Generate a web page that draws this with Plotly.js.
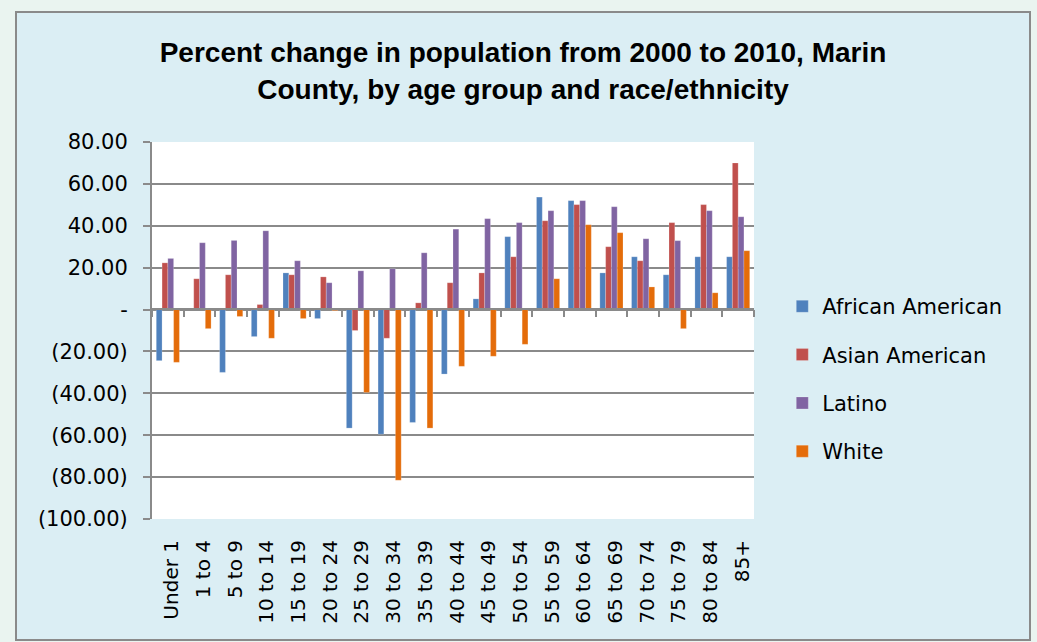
<!DOCTYPE html>
<html>
<head>
<meta charset="utf-8">
<script src="https://cdn.plot.ly/plotly-3.0.1.min.js"></script>
<style>
    body { margin: 0; background: #eaf4f0; }
    #plot {
        position: absolute;
        left: 15px;
        top: 11px;
        width: 1012px;
        height: 626px;
        border: 2px solid #8a8a8a;
    }
</style>
</head>
<body>
<div id="plot"></div>
<script>
const ageGroups = ['Under 1', '1 to 4', '5 to 9', '10 to 14', '15 to 19', '20 to 24', '25 to 29',
    '30 to 34', '35 to 39', '40 to 44', '45 to 49', '50 to 54', '55 to 59', '60 to 64',
    '65 to 69', '70 to 74', '75 to 79', '80 to 84', '85+'];

const africanAmerican = [-24.4, 0.5, -30.0, -12.9, 17.5, -4.3, -56.6, -59.5, -53.9, -30.8,
    5.1, 34.8, 53.7, 52.0, 17.5, 25.2, 16.6, 25.2, 25.2];
const asianAmerican = [22.3, 14.7, 16.6, 2.4, 16.6, 15.6, -10.0, -13.7, 3.2, 12.8,
    17.5, 25.2, 42.4, 50.1, 30.0, 23.3, 41.5, 50.1, 70.0];
const latino = [24.4, 31.9, 33.0, 37.6, 23.3, 12.8, 18.5, 19.5, 27.1, 38.4,
    43.4, 41.5, 47.2, 52.0, 49.1, 33.8, 32.9, 47.2, 44.3];
const white = [-25.2, -9.1, -3.3, -13.7, -4.3, -0.5, -39.6, -81.5, -56.6, -27.1,
    -22.3, -16.6, 14.7, 40.5, 36.7, 10.8, -9.1, 8.0, 28.1];

const yTickVals = [80, 60, 40, 20, 0, -20, -40, -60, -80, -100];
const yTickText = ['80.00', '60.00', '40.00', '20.00', '-', '(20.00)', '(40.00)', '(60.00)', '(80.00)', '(100.00)'];

function barTrace(name, values, color) {
    return {
        type: 'bar',
        x: ageGroups,
        y: values,
        name: name,
        legendgroup: name,
        marker: {color: color, line: {color: 'rgba(255,255,255,0.35)', width: 0.6}}
    };
}

const traces = [
    barTrace('African American', africanAmerican, '#4f81bd'),
    barTrace('Asian American', asianAmerican, '#c0504d'),
    barTrace('Latino', latino, '#8064a2'),
    barTrace('White', white, '#e46c0a'),
    // invisible points so the category axis through zero gets its ticks
    {
        type: 'scatter', mode: 'markers', x: ageGroups, y: ageGroups.map(() => 0),
        xaxis: 'x2', marker: {opacity: 0}, showlegend: false, hoverinfo: 'skip'
    }
];

const layout = {
    width: 1012,
    height: 626,
    margin: {l: 135, r: 275, t: 129, b: 120},
    paper_bgcolor: '#dbeef4',
    plot_bgcolor: '#ffffff',
    font: {family: 'DejaVu Sans', size: 21, color: '#000000'},
    title: {
        text: 'Percent change in population from 2000 to 2010, Marin<br>County, by age group and race/ethnicity',
        font: {family: 'Liberation Sans', size: 28, weight: 'bold', color: '#000000'},
        xref: 'container', x: 0.5,
        yref: 'container', y: 0.921, yanchor: 'middle'
    },
    barmode: 'group',
    bargap: 0.27,
    bargroupgap: 0,
    xaxis: {
        type: 'category',
        categoryarray: ageGroups,
        tickangle: -90,
        tickfont: {size: 20},
        ticks: '',
        showgrid: false,
        showline: false,
        zeroline: false,
        ticklabelstandoff: 16,
        ticklabelshift: 4,
        range: [-0.5, 18.5]
    },
    xaxis2: {
        type: 'category',
        overlaying: 'x',
        anchor: 'free',
        position: 0.557,
        range: [-0.5, 18.5],
        showticklabels: false,
        showgrid: false,
        showline: true,
        linecolor: '#8a8a8a',
        linewidth: 2,
        ticks: 'outside',
        tickson: 'boundaries',
        ticklen: 7,
        tickwidth: 2,
        tickcolor: '#8a8a8a'
    },
    yaxis: {
        range: [-100, 80],
        tickmode: 'array',
        tickvals: yTickVals,
        ticktext: yTickText,
        ticks: 'outside',
        ticklen: 7,
        tickwidth: 2,
        tickcolor: '#8a8a8a',
        ticklabelstandoff: 11,
        showline: true,
        linecolor: '#8a8a8a',
        linewidth: 2,
        gridcolor: '#8a8a8a',
        gridwidth: 2,
        zeroline: false
    },
    legend: {
        x: 1.047, y: 0.371, xanchor: 'left', yanchor: 'middle',
        traceorder: 'grouped',
        tracegroupgap: 18,
        bgcolor: 'rgba(0,0,0,0)',
        font: {family: 'DejaVu Sans', size: 21}
    },
    showlegend: true
};

Plotly.newPlot('plot', traces, layout, {displayModeBar: false, staticPlot: true});
</script>
</body>
</html>
